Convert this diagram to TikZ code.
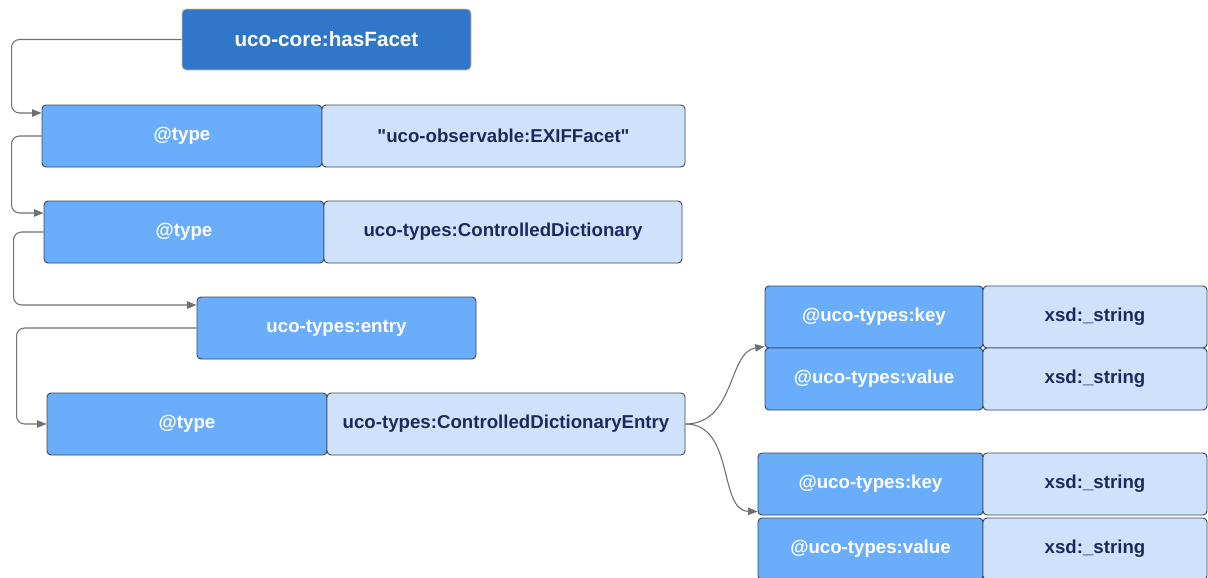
\documentclass[tikz,border=0pt]{standalone}
\usepackage{fontspec}
\setmainfont{Liberation Sans}
\usetikzlibrary{arrows.meta}

% plain font without the TeX quote mapping, for a straight double quote
\font\plainq="Liberation Sans/B" at 14pt
\newcommand{\sq}{{\plainq\char34}}

\definecolor{darkfill}{RGB}{48,119,201}
\definecolor{midfill}{RGB}{106,173,250}
\definecolor{lightfill}{RGB}{207,226,251}
\definecolor{edgec}{RGB}{60,72,92}
\definecolor{warmedge}{RGB}{232,186,146}
\definecolor{navytext}{RGB}{24,44,92}
\definecolor{linkc}{RGB}{112,112,112}

% box from corner (x1,y1) to (x2,y2), in pixel units
\newcommand{\pbox}[7]{%
  \node[#2, minimum width={(#5-#3)*0.75pt}, minimum height={(#6-#4)*0.75pt}]
    (#1) at ({(#3+#5)/2},{(#4+#6)/2}) {#7};}

\tikzset{
  basebox/.style={rounded corners=3pt, inner sep=0pt, line width=0.7pt,
    font=\bfseries\fontsize{14}{16}\selectfont},
  headbox/.style={basebox, fill=darkfill, draw=warmedge, text=white,
    font=\bfseries\fontsize{15.5}{18}\selectfont},
  keybox/.style={basebox, fill=midfill, draw=edgec, text=white},
  valbox/.style={basebox, fill=lightfill, draw=edgec, text=navytext},
  conn/.style={draw=linkc, line width=0.8pt, rounded corners=6pt,
    -{Triangle[length=7pt,width=5.5pt]}, color=linkc},
}

\begin{document}
\begin{tikzpicture}[x=0.75pt,y=-0.75pt]
\useasboundingbox (0,0) rectangle (1208,578);
\fill[white] (0,0) rectangle (1208,578);

\pbox{hf}{headbox}{182}{9}{471}{70}{uco-core:hasFacet}

\pbox{t1}{keybox}{42}{105}{322}{167}{@type}
\pbox{v1}{valbox}{322}{105}{685}{167}{\sq uco-observable:EXIFFacet\sq}

\pbox{t2}{keybox}{44}{201}{324}{263}{@type}
\pbox{v2}{valbox}{324}{201}{682}{263}{uco-types:ControlledDictionary}

\pbox{en}{keybox}{197}{297}{476}{359}{uco-types:entry}

\pbox{t3}{keybox}{47}{393}{327}{455}{@type}
\pbox{v3}{valbox}{327}{393}{685}{455}{uco-types:ControlledDictionaryEntry}

\pbox{k1}{keybox}{765}{286}{983}{348}{@uco-types:key}
\pbox{s1}{valbox}{983}{286}{1207}{348}{xsd:\_string}
\pbox{w1}{keybox}{765}{348}{983}{410}{@uco-types:value}
\pbox{s2}{valbox}{983}{348}{1207}{410}{xsd:\_string}

\pbox{k2}{keybox}{758}{453}{983}{515}{@uco-types:key}
\pbox{s3}{valbox}{983}{453}{1207}{515}{xsd:\_string}
\pbox{w2}{keybox}{758}{518}{983}{580}{@uco-types:value}
\pbox{s4}{valbox}{983}{518}{1207}{580}{xsd:\_string}

% elbow links along the left side
\draw[conn] (hf.west) -- ++(-170,0) |- ([yshift=17.25pt]t1.west);
\draw[conn] (t1.west) -- ++(-30,0) |- ([yshift=14.25pt]t2.west);
\draw[conn] (t2.west) -- ++(-30,0) |- ([yshift=17.25pt]en.west);
\draw[conn] (en.west) -- ++(-180,0) |- (t3.west);

% curved links to the key/value pairs
\draw[conn] (v3.east) .. controls (735,424) and (728,352) .. ([yshift=1.5pt]k1.south west);
\draw[conn] (v3.east) .. controls (735,424) and (718,511) .. ([yshift=3pt]k2.south west);
\end{tikzpicture}
\end{document}
